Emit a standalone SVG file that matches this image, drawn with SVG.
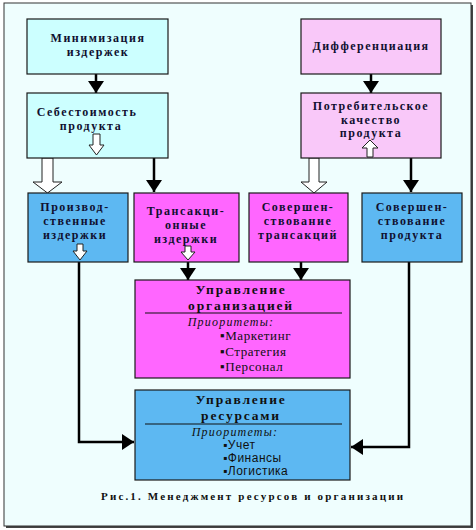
<svg xmlns="http://www.w3.org/2000/svg" width="476" height="530" viewBox="0 0 476 530">
<style>
.box{stroke:#1a1a1a;stroke-width:1.2}
.t{font-family:"Liberation Serif","Times New Roman",serif;font-weight:bold;font-size:12px;fill:#101030;text-anchor:middle;letter-spacing:1.5px}
.big{font-family:"Liberation Serif","Times New Roman",serif;font-weight:bold;font-size:13.5px;fill:#101010;text-anchor:middle;letter-spacing:1.8px}
.it{font-family:"Liberation Serif","Times New Roman",serif;font-style:italic;font-size:12px;fill:#101010;text-anchor:middle;letter-spacing:1.2px}
.li{font-family:"Liberation Serif","Times New Roman",serif;font-size:13px;fill:#101010;letter-spacing:0.6px}
.ls{font-family:"Liberation Sans",Arial,sans-serif;font-size:12px;fill:#101010;letter-spacing:0.5px}
.cap{font-family:"Liberation Serif","Times New Roman",serif;font-weight:bold;font-size:11px;fill:#101010}
.ln{fill:none;stroke:#000;stroke-width:2.5}
.hol{fill:#fff;stroke:#222;stroke-width:1}
</style>
<defs>
<marker id="ah" viewBox="0 0 12 16" refX="12" refY="8" markerWidth="12" markerHeight="16" markerUnits="userSpaceOnUse" orient="auto">
<path d="M0,0 L12,8 L0,16 z" fill="#000"/>
</marker>
</defs>
<g id="frame">
<rect x="6" y="5" width="467" height="523" fill="#444"/>
<rect x="4" y="3" width="467" height="523" fill="#effefe" stroke="#333" stroke-width="1"/>
</g>
<g id="connectors">
<line class="ln" x1="96" y1="74" x2="96" y2="93" marker-end="url(#ah)"/>
<line class="ln" x1="371" y1="74" x2="371" y2="93" marker-end="url(#ah)"/>
<line class="ln" x1="154" y1="158" x2="154" y2="192" marker-end="url(#ah)"/>
<line class="ln" x1="411" y1="158" x2="411" y2="192" marker-end="url(#ah)"/>
<line class="ln" x1="188" y1="262" x2="188" y2="280" marker-end="url(#ah)"/>
<line class="ln" x1="301" y1="262" x2="301" y2="280" marker-end="url(#ah)"/>
<polyline class="ln" points="79,262 79,442 134,442" marker-end="url(#ah)"/>
<polyline class="ln" points="409,262 409,447 351,447" marker-end="url(#ah)"/>
<polygon class="hol" points="42,158 53,158 53,182 62,182 47.5,193 33,182 42,182"/>
<polygon class="hol" points="309,158 319,158 319,182 327,182 314,193 301,182 309,182"/>
</g>
<g id="n1">
<rect class="box" x="27" y="19" width="141" height="55" fill="#ccffff"/>
<text class="t" x="98" y="42">Минимизация</text>
<text class="t" x="98" y="56">издержек</text>
</g>
<g id="n2">
<rect class="box" x="27" y="93" width="141" height="65" fill="#ccffff"/>
<text class="t" x="87" y="116">Себестоимость</text>
<text class="t" x="91" y="130">продукта</text>
<polygon class="hol" points="93,134 100,134 100,145 104,145 96.5,155 89,145 93,145"/>
</g>
<g id="n3">
<rect class="box" x="301" y="19" width="140" height="55" fill="#f9c8f9"/>
<text class="t" x="371" y="50">Дифференциация</text>
</g>
<g id="n4">
<rect class="box" x="301" y="93" width="140" height="65" fill="#f9c8f9"/>
<text class="t" x="371" y="110">Потребительское</text>
<text class="t" x="371" y="124">качество</text>
<text class="t" x="371" y="137">продукта</text>
<polygon class="hol" points="367,157 373,157 373,148 378,148 370,140 362,148 367,148"/>
</g>
<g id="n5">
<rect class="box" x="28" y="193" width="100" height="69" fill="#5db8f2"/>
<text class="t" x="75" y="211">Производ-</text>
<text class="t" x="75" y="225">ственные</text>
<text class="t" x="75" y="239">издержки</text>
<polygon class="hol" points="77,244 83,244 83,251 87,251 80,260 73,251 77,251"/>
</g>
<g id="n6">
<rect class="box" x="134" y="193" width="105" height="69" fill="#ff66ff"/>
<text class="t" x="186" y="215">Трансакци-</text>
<text class="t" x="186" y="229">онные</text>
<text class="t" x="186" y="243">издержки</text>
<polygon class="hol" points="185,246 191,246 191,252 195,252 188,260 181,252 185,252"/>
</g>
<g id="n7">
<rect class="box" x="249" y="193" width="99" height="69" fill="#ff66ff"/>
<text class="t" x="298" y="211">Совершен-</text>
<text class="t" x="298" y="225">ствование</text>
<text class="t" x="298" y="239">трансакций</text>
</g>
<g id="n8">
<rect class="box" x="362" y="193" width="100" height="69" fill="#5db8f2"/>
<text class="t" x="412" y="211">Совершен-</text>
<text class="t" x="412" y="225">ствование</text>
<text class="t" x="412" y="239">продукта</text>
</g>
<g id="n9">
<rect class="box" x="135" y="280" width="215" height="98" fill="#ff66ff"/>
<text class="big" x="241" y="294">Управление</text>
<text class="big" x="241" y="310">организацией</text>
<line x1="145" y1="313" x2="342" y2="313" stroke="#111" stroke-width="1.2"/>
<text class="it" x="231" y="326">Приоритеты:</text>
<text class="li" x="220" y="340">▪Маркетинг</text>
<text class="li" x="220" y="356">▪Стратегия</text>
<text class="li" x="220" y="371">▪Персонал</text>
</g>
<g id="n10">
<rect class="box" x="135" y="390" width="215" height="90" fill="#5db8f2"/>
<text class="big" x="241" y="404">Управление</text>
<text class="big" x="241" y="420">ресурсами</text>
<line x1="145" y1="424" x2="342" y2="424" stroke="#111" stroke-width="1.2"/>
<text class="it" x="235" y="436">Приоритеты:</text>
<text class="ls" x="223" y="449">▪Учет</text>
<text class="ls" x="223" y="462">▪Финансы</text>
<text class="ls" x="223" y="475">▪Логистика</text>
</g>
<text class="cap" x="101" y="500" textLength="302" lengthAdjust="spacing">Рис.1.   Менеджмент ресурсов и организации</text>
</svg>
